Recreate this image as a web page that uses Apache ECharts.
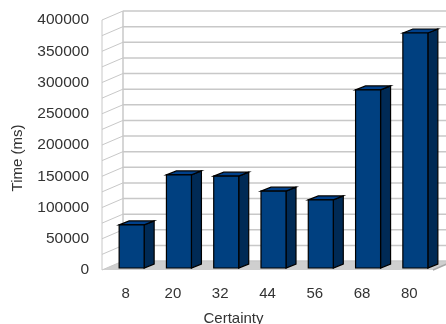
<!DOCTYPE html>
<html>
<head>
<meta charset="utf-8">
<style>html,body{margin:0;padding:0;background:#fff;overflow:hidden}#chart{width:446px;height:324px}</style>
<script src="https://cdn.jsdelivr.net/npm/echarts@6/dist/echarts.min.js"></script>
</head>
<body>
<div id="chart"></div>
<script>
const certainty = ['8', '20', '32', '44', '56', '68', '80'];
const timeMs = [69000, 149000, 147000, 123000, 109000, 285000, 376000];
const wallLevels = [0, 25000, 50000, 75000, 100000, 125000, 150000, 175000, 200000,
  225000, 250000, 275000, 300000, 325000, 350000, 375000, 400000];

// Oblique projection of the box: how far the back wall is shifted from the front plane.
const WALL_DX = 21, WALL_DY = -9;
// Where the bars stand inside the box, and how deep they are.
const BAR_DX = 6, BAR_DY = -2, BAR_DEPTH_X = 10, BAR_DEPTH_Y = -4;
const BAR_WIDTH = 25;
const WALL_COLOR = '#c8c8c8';
const TEXT_COLOR = '#333333';
const FONT = '"Liberation Sans", Arial, sans-serif';

function renderWall(params, api) {
  const grid = params.coordSys;
  const y = api.coord([0, api.value(0)])[1];
  const left = grid.x, right = grid.x + grid.width;
  const style = { stroke: WALL_COLOR, lineWidth: 1.5, fill: null };
  const children = [
    { type: 'line', shape: { x1: left, y1: y, x2: left + WALL_DX, y2: y + WALL_DY }, style: { ...style, lineWidth: 1 } },
    { type: 'line', shape: { x1: left + WALL_DX, y1: y + WALL_DY, x2: right + WALL_DX, y2: y + WALL_DY }, style }
  ];
  if (params.dataIndex === 0) {
    const top = grid.y;
    children.unshift({
      type: 'polygon',
      shape: { points: [[left, y], [left + WALL_DX, y + WALL_DY], [right + WALL_DX, y + WALL_DY], [right, y]] },
      style: { fill: '#cfcfcf' }
    });
    children.push(
      { type: 'line', shape: { x1: left, y1: y, x2: left, y2: top }, style: { ...style, lineWidth: 1 } },
      { type: 'line', shape: { x1: left + WALL_DX, y1: y + WALL_DY, x2: left + WALL_DX, y2: top + WALL_DY }, style },
      { type: 'line', shape: { x1: right, y1: y, x2: right + WALL_DX, y2: y + WALL_DY }, style: { stroke: '#a8a8a8', lineWidth: 1.5 } }
    );
  }
  return { type: 'group', children };
}

function renderBar(params, api) {
  const top = api.coord([api.value(0), api.value(1)]);
  const base = api.coord([api.value(0), 0]);
  const x0 = top[0] + BAR_DX - BAR_WIDTH / 2, x1 = x0 + BAR_WIDTH;
  const yT = top[1] + BAR_DY, yB = base[1] + BAR_DY;
  const dx = BAR_DEPTH_X, dy = BAR_DEPTH_Y;
  const outline = { stroke: '#000000', lineWidth: 1.2 };
  return {
    type: 'group',
    children: [
      { type: 'polygon', shape: { points: [[x1, yT], [x1 + dx, yT + dy], [x1 + dx, yB + dy], [x1, yB]] },
        style: { fill: '#002a55', ...outline } },
      { type: 'polygon', shape: { points: [[x0, yT], [x0 + dx, yT + dy], [x1 + dx, yT + dy], [x1, yT]] },
        style: { fill: '#00408a', ...outline } },
      { type: 'rect', shape: { x: x0, y: yT, width: BAR_WIDTH, height: yB - yT },
        style: { fill: '#004080', ...outline } }
    ]
  };
}

const chart = echarts.init(document.getElementById('chart'), null, { renderer: 'canvas' });
chart.setOption({
  animation: false,
  backgroundColor: '#ffffff',
  grid: { left: 102, top: 20, width: 331, height: 250, containLabel: false, outerBoundsMode: 'none' },
  xAxis: {
    type: 'category',
    data: certainty,
    name: 'Certainty',
    nameLocation: 'middle',
    nameGap: 41,
    nameTextStyle: { color: TEXT_COLOR, fontFamily: FONT, fontSize: 15, padding: [0, 68, 0, 0] },
    axisLine: { show: false },
    axisTick: { show: false },
    axisLabel: { color: TEXT_COLOR, fontFamily: FONT, fontSize: 15, margin: 16 },
    splitLine: { show: false }
  },
  yAxis: {
    type: 'value',
    min: 0,
    max: 400000,
    interval: 50000,
    name: 'Time (ms)',
    nameLocation: 'middle',
    nameGap: 77,
    nameTextStyle: { color: TEXT_COLOR, fontFamily: FONT, fontSize: 15, padding: [0, 26, 0, 0] },
    axisLine: { show: false },
    axisTick: { show: false },
    axisLabel: { color: TEXT_COLOR, fontFamily: FONT, fontSize: 15.5, margin: 13, padding: [2, 0, 0, 0], verticalAlignMinLabel: 'middle', verticalAlignMaxLabel: 'middle', formatter: v => String(v) },
    splitLine: { show: false }
  },
  series: [
    { type: 'custom', data: wallLevels.map(v => [v]), encode: { y: 0 }, renderItem: renderWall, clip: false, silent: true, z: 1 },
    { type: 'custom', data: certainty.map((c, i) => [i, timeMs[i]]), encode: { x: 0, y: 1 }, renderItem: renderBar, clip: false, silent: true, z: 2 }
  ]
});
</script>
</body>
</html>
